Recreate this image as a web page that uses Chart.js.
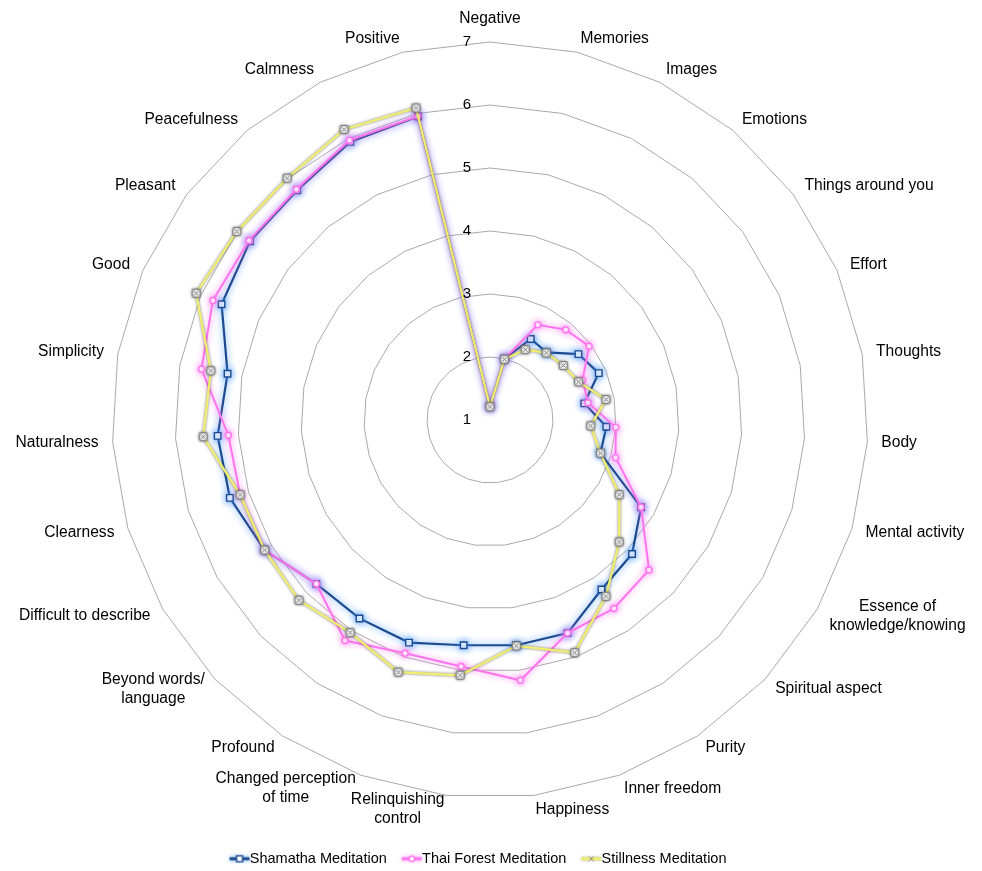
<!DOCTYPE html>
<html>
<head>
<meta charset="utf-8">
<title>Meditation experience profile</title>
<script src="https://cdn.jsdelivr.net/npm/chart.js@4.4.1/dist/chart.umd.min.js"></script>
<style>
  html, body { margin: 0; padding: 0; background: #ffffff; }
  #wrap { width: 982px; height: 871px; position: relative; }
</style>
</head>
<body>
<div id="wrap"><canvas id="radar" width="982" height="871"></canvas></div>
<script>
// ---- data ----
const categories = [
  'Negative', 'Memories', 'Images', 'Emotions', 'Things around you', 'Effort',
  'Thoughts', 'Body', 'Mental activity', ['Essence of', 'knowledge/knowing'],
  'Spiritual aspect', 'Purity', 'Inner freedom', 'Happiness',
  ['Relinquishing', 'control'], ['Changed perception', 'of time'], 'Profound',
  ['Beyond words/', 'language'], 'Difficult to describe', 'Clearness',
  'Naturalness', 'Simplicity', 'Good', 'Pleasant', 'Peacefulness', 'Calmness',
  'Positive'
];
const seriesNames = ['Shamatha Meditation', 'Thai Forest Meditation', 'Stillness Meditation'];
const shamatha = [
  1.21, 2.00, 2.44, 2.40, 2.75, 2.88, 2.52, 2.85, 2.83, 3.77,
  4.10, 4.22, 4.60, 4.60, 4.60, 4.76, 4.77, 4.79, 5.13, 5.31,
  5.33, 5.23, 5.64, 5.75, 5.76, 5.94, 5.95
];
const thaiForest = [
  1.21, 2.00, 2.69, 2.87, 2.96, 2.60, 2.58, 3.00, 3.08, 3.77,
  4.47, 4.58, 4.60, 5.16, 4.94, 4.94, 5.19, 4.79, 5.13, 5.14,
  5.16, 5.65, 5.79, 5.77, 5.78, 5.97, 5.96
];
const stillness = [
  1.21, 1.99, 2.25, 2.39, 2.45, 2.53, 2.87, 2.60, 2.83, 3.37,
  3.82, 4.35, 4.93, 4.61, 5.08, 5.26, 5.04, 5.17, 5.13, 5.14,
  5.56, 5.50, 6.08, 6.01, 6.01, 6.16, 6.09
];
const tickValues = [1, 2, 3, 4, 5, 6, 7];

// ---- look ----
const FONT = '"Liberation Sans", Arial, Helvetica, sans-serif';
const TEXT = '#000000';
const BLUE = '#1c4a8e';
const PINK = '#ff74ee';
const YELLOW = '#f1ef6c';

function makeCanvas(w, h, paint) {
  const c = document.createElement('canvas');
  c.width = w; c.height = h;
  paint(c.getContext('2d'));
  return c;
}

// boxed-x marker of the stillness series
function paintStillMarker(ctx, cx, cy) {
  const s = 3.8;
  ctx.fillStyle = '#f4f4f4';
  ctx.strokeStyle = '#808080';
  ctx.lineWidth = 1.2;
  ctx.beginPath();
  ctx.moveTo(cx - s + 1.2, cy - s);
  ctx.arcTo(cx + s, cy - s, cx + s, cy + s, 1.2);
  ctx.arcTo(cx + s, cy + s, cx - s, cy + s, 1.2);
  ctx.arcTo(cx - s, cy + s, cx - s, cy - s, 1.2);
  ctx.arcTo(cx - s, cy - s, cx + s, cy - s, 1.2);
  ctx.closePath();
  ctx.fill();
  ctx.stroke();
  ctx.strokeStyle = '#6e6e6e';
  ctx.lineWidth = 1;
  ctx.beginPath();
  ctx.moveTo(cx - 2.2, cy - 2.2); ctx.lineTo(cx + 2.2, cy + 2.2);
  ctx.moveTo(cx + 2.2, cy - 2.2); ctx.lineTo(cx - 2.2, cy + 2.2);
  ctx.stroke();
}
const stillMarker = makeCanvas(11, 11, ctx => paintStillMarker(ctx, 5.5, 5.5));

// legend swatches: a short glowing line with the series marker on it
function legendSwatch(lineColor, glow, blur, marker) {
  return makeCanvas(42, 16, ctx => {
    ctx.save();
    ctx.shadowColor = glow;
    ctx.shadowBlur = blur;
    ctx.strokeStyle = lineColor;
    ctx.lineWidth = 3;
    ctx.beginPath();
    ctx.moveTo(15, 8); ctx.lineTo(35, 8);
    ctx.stroke();
    ctx.restore();
    marker(ctx, 25, 8);
  });
}
const legendIcons = [
  legendSwatch(BLUE, 'rgba(70,150,255,0.95)', 4, (ctx, x, y) => {
    ctx.fillStyle = '#fff'; ctx.strokeStyle = BLUE; ctx.lineWidth = 1.4;
    ctx.fillRect(x - 3, y - 3, 6, 6); ctx.strokeRect(x - 3, y - 3, 6, 6);
  }),
  legendSwatch(PINK, 'rgba(255,120,240,0.9)', 4, (ctx, x, y) => {
    ctx.fillStyle = '#fff'; ctx.strokeStyle = PINK; ctx.lineWidth = 1.4;
    ctx.beginPath(); ctx.arc(x, y, 2.8, 0, Math.PI * 2); ctx.fill(); ctx.stroke();
  }),
  legendSwatch(YELLOW, 'rgba(80,80,80,0.6)', 2, (ctx, x, y) => {
    ctx.strokeStyle = '#8a8a8a'; ctx.lineWidth = 1;
    ctx.beginPath();
    ctx.moveTo(x - 2.5, y - 2.5); ctx.lineTo(x + 2.5, y + 2.5);
    ctx.moveTo(x + 2.5, y - 2.5); ctx.lineTo(x - 2.5, y + 2.5);
    ctx.stroke();
  })
];

// ---- plugins ----
// fixed placement of the radial scale inside the canvas
const placeScale = {
  id: 'placeScale',
  afterLayout(chart) {
    const r = chart.scales.r;
    r.xCenter = 490;
    r.yCenter = 420;
    r.drawingArea = 378;
  }
};

// soft halo around each series line and its markers
const seriesGlow = {
  id: 'seriesGlow',
  beforeDatasetDraw(chart, args) {
    const ds = chart.data.datasets[args.index];
    chart.ctx.save();
    chart.ctx.shadowColor = ds.glowColor;
    chart.ctx.shadowBlur = ds.glowBlur;
  },
  afterDatasetDraw(chart) {
    chart.ctx.restore();
  }
};

// category names around the web and value labels beside the top spoke
const axisText = {
  id: 'axisText',
  afterDatasetsDraw(chart) {
    const r = chart.scales.r;
    const ctx = chart.ctx;
    ctx.save();
    ctx.fillStyle = TEXT;
    ctx.textBaseline = 'middle';

    // value labels
    ctx.font = '15px ' + FONT;
    ctx.textAlign = 'center';
    r.ticks.forEach(t => {
      const d = r.getDistanceFromCenterForValue(t.value);
      ctx.fillText(String(t.value), r.xCenter - 23, r.yCenter - d);
    });

    // category labels
    ctx.font = '15.6px ' + FONT;
    const n = categories.length;
    const lh = 19;
    categories.forEach((lab, i) => {
      const lines = Array.isArray(lab) ? lab : [lab];
      const ang = (i * 360) / n;
      const p = r.getPointPosition(i, r.drawingArea + 14);
      const blockW = Math.max(...lines.map(s => ctx.measureText(s).width));
      let cx, cy = p.y;
      if (ang < 0.01) {
        cx = p.x;
        cy = p.y - (lines.length * lh) / 2;
      } else if (ang < 180) {
        cx = p.x + blockW / 2;
      } else {
        cx = p.x - blockW / 2;
      }
      ctx.textAlign = 'center';
      lines.forEach((s, k) => {
        ctx.fillText(s, cx, cy - ((lines.length - 1) * lh) / 2 + k * lh);
      });
    });
    ctx.restore();
  }
};

// ---- chart ----
Chart.defaults.font.family = FONT;
Chart.defaults.color = TEXT;

new Chart(document.getElementById('radar'), {
  type: 'radar',
  data: {
    labels: categories,
    datasets: [
      {
        label: seriesNames[0],
        data: shamatha,
        order: 2,
        borderColor: BLUE,
        borderWidth: 2.2,
        fill: false,
        pointStyle: 'rect',
        pointRadius: 4.6,
        pointBackgroundColor: '#ffffff',
        pointBorderColor: BLUE,
        pointBorderWidth: 1.4,
        glowColor: 'rgba(70,150,255,0.95)',
        glowBlur: 7,
        clip: false
      },
      {
        label: seriesNames[1],
        data: thaiForest,
        order: 1,
        borderColor: PINK,
        borderWidth: 2,
        fill: false,
        pointStyle: 'circle',
        pointRadius: 3,
        pointBackgroundColor: '#ffffff',
        pointBorderColor: PINK,
        pointBorderWidth: 1.4,
        glowColor: 'rgba(255,120,240,0.9)',
        glowBlur: 6,
        clip: false
      },
      {
        label: seriesNames[2],
        data: stillness,
        order: 0,
        borderColor: YELLOW,
        borderWidth: 2.2,
        fill: false,
        pointStyle: stillMarker,
        pointRadius: 5,
        glowColor: 'rgba(70,70,70,0.75)',
        glowBlur: 3,
        clip: false
      }
    ]
  },
  options: {
    responsive: false,
    animation: false,
    events: [],
    layout: { padding: { left: 0, right: 27, top: 0, bottom: -5 } },
    elements: { line: { tension: 0 } },
    scales: {
      r: {
        min: tickValues[0],
        max: tickValues[tickValues.length - 1],
        afterBuildTicks: s => { s.ticks = tickValues.map(v => ({ value: v })); },
        ticks: { display: false },
        pointLabels: { display: false },
        angleLines: { display: false },
        grid: { circular: false, color: '#a9a9a9', lineWidth: 1 }
      }
    },
    plugins: {
      tooltip: { enabled: false },
      legend: {
        position: 'bottom',
        labels: {
          usePointStyle: true,
          pointStyleWidth: 14,
          padding: 14,
          color: TEXT,
          font: { size: 14.5, family: FONT },
          generateLabels: chart => chart.data.datasets.map((ds, i) => ({
            text: ds.label,
            pointStyle: legendIcons[i],
            fillStyle: 'transparent',
            strokeStyle: 'transparent',
            lineWidth: 0,
            hidden: false,
            datasetIndex: i,
            fontColor: TEXT
          }))
        }
      }
    }
  },
  plugins: [placeScale, seriesGlow, axisText]
});
</script>
</body>
</html>
